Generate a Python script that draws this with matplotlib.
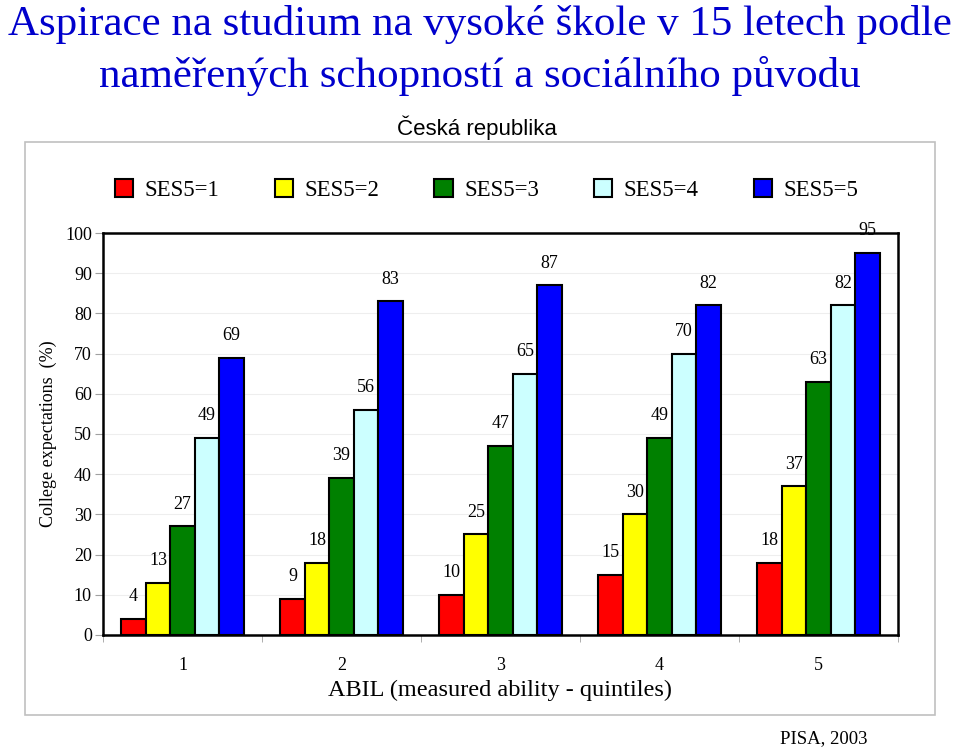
import matplotlib
matplotlib.use("Agg")
from matplotlib import pyplot as plt
from matplotlib.patches import Rectangle
import numpy as np

# data
quintiles = ["1", "2", "3", "4", "5"]
series_names = ["SES5=1", "SES5=2", "SES5=3", "SES5=4", "SES5=5"]
ses1 = [4, 9, 10, 15, 18]
ses2 = [13, 18, 25, 30, 37]
ses3 = [27, 39, 47, 49, 63]
ses4 = [49, 56, 65, 70, 82]
ses5 = [69, 83, 87, 82, 95]
colors = ["#FF0000", "#FFFF00", "#008000", "#CCFFFF", "#0000FF"]

serif = "Liberation Serif"
sans = "Liberation Sans"

fig = plt.figure(figsize=(9.6, 7.48), dpi=100)

# light grey frame around the chart area
fig.patches.append(Rectangle((0.026, 0.044), 0.948, 0.766, transform=fig.transFigure,
                             fill=False, edgecolor="#c0c0c0", linewidth=1.2))

fig.text(0.5, 0.967, "Aspirace na studium na vysoké škole v 15 letech podle",
         ha="center", va="center", family=serif, fontsize=31, color="#0000CC")
fig.text(0.5, 0.899, "naměřených schopností a sociálního původu",
         ha="center", va="center", family=serif, fontsize=31, color="#0000CC")
fig.text(0.497, 0.829, "Česká republika", ha="center", va="center",
         family=sans, fontsize=16, color="black")

ax = fig.add_axes([0.1073, 0.1511, 0.8281, 0.5374])

x = np.arange(1, 6)
w = 1 / 6.5
all_series = [ses1, ses2, ses3, ses4, ses5]
bars = []
for i in range(5):
    b = ax.bar(x + (i - 2) * w, all_series[i], width=w, color=colors[i],
               edgecolor="black", linewidth=1.5, label=series_names[i], zorder=3)
    bars.append(b)
    for xi, v in zip(x + (i - 2) * w, all_series[i]):
        ax.annotate(str(v), (xi, v), xytext=(0, 16), textcoords="offset points",
                    ha="center", va="center", family=serif, fontsize=13)

ax.set_xlim(0.5, 5.5)
ax.set_ylim(0, 100)
ax.set_yticks(range(0, 101, 10))
ax.set_xticks(x)
ax.set_xticklabels(quintiles)
ax.set_xticks(np.arange(0.5, 6.0, 1.0), minor=True)
ax.tick_params(axis="x", which="major", length=0, pad=16)
ax.tick_params(axis="x", which="minor", length=5, color="#a0a0a0", direction="out")
ax.tick_params(axis="y", length=6, color="#a0a0a0", pad=2)
for lab in ax.get_xticklabels() + ax.get_yticklabels():
    lab.set_family(serif)
    lab.set_fontsize(13)

ax.yaxis.grid(True, color="#eeeeee", linewidth=0.8, zorder=0)
ax.set_axisbelow(True)
for s in ax.spines.values():
    s.set_color("black")
    s.set_linewidth(1.8)

ax.set_xlabel("ABIL (measured ability - quintiles)", family=serif, fontsize=17.5, labelpad=4)
ax.set_ylabel("College expectations  (%)", family=serif, fontsize=13, labelpad=6)

fig.legend(handles=bars, labels=series_names, loc="center", bbox_to_anchor=(0.507, 0.746),
           ncol=5, frameon=False, prop={"family": serif, "size": 16.5},
           handlelength=0.8, handleheight=0.8, handletextpad=0.5, columnspacing=2.4)

fig.text(0.858, 0.013, "PISA, 2003", ha="center", va="center", family=serif, fontsize=13.5)

fig.savefig("out.png", dpi=100)
